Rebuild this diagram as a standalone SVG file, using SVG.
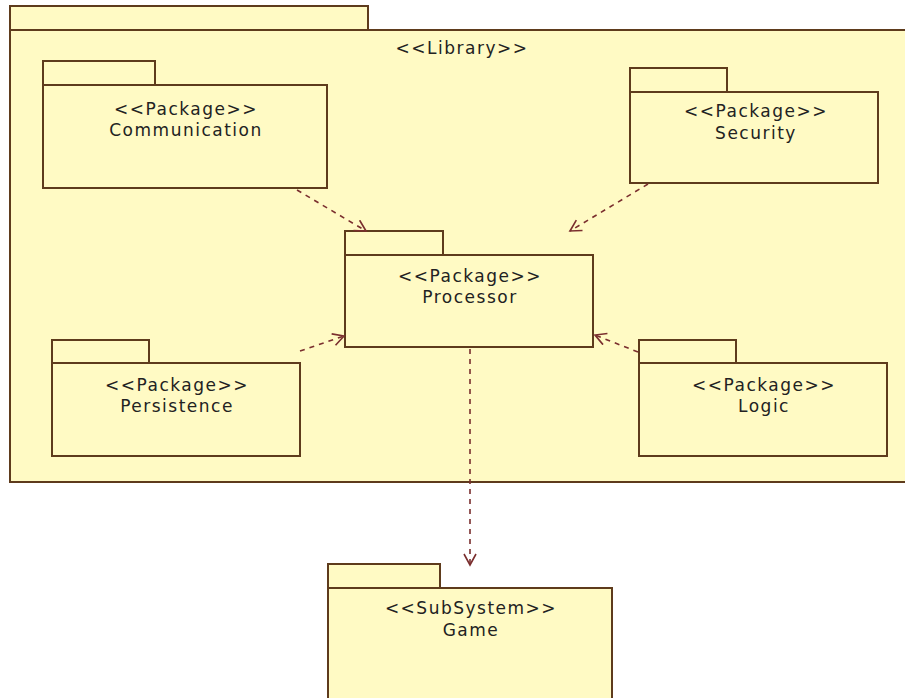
<svg xmlns="http://www.w3.org/2000/svg" width="905" height="698" viewBox="0 0 905 698">
<style>
.pk{fill:#FFFAC4;stroke:#5E3B1C;stroke-width:2}
.t{font-family:"DejaVu Sans",Verdana,sans-serif;font-size:17px;letter-spacing:1.5px;fill:#222222;text-anchor:middle}
.dep{fill:none;stroke:#7A2E2E;stroke-width:1.6;stroke-dasharray:5,5}
.ah{fill:none;stroke:#7A2E2E;stroke-width:1.6}
</style>
<defs>
<marker id="open" markerWidth="14" markerHeight="14" refX="12" refY="7" orient="auto" markerUnits="userSpaceOnUse">
<path d="M1,1 L12,7 L1,13" class="ah"/>
</marker>
</defs>
<rect width="905" height="698" fill="#FFFFFF"/>
<g id="library">
<rect class="pk" x="10" y="6" width="358" height="24"/>
<rect class="pk" x="10" y="30" width="905" height="452"/>
<text class="t" x="462" y="54">&lt;&lt;Library&gt;&gt;</text>
</g>
<g id="communication">
<rect class="pk" x="43" y="61" width="112" height="24"/>
<rect class="pk" x="43" y="85" width="284" height="103"/>
<text class="t" x="186" y="115">&lt;&lt;Package&gt;&gt;</text>
<text class="t" x="186" y="136">Communication</text>
</g>
<g id="security">
<rect class="pk" x="630" y="68" width="97" height="24"/>
<rect class="pk" x="630" y="92" width="248" height="91"/>
<text class="t" x="756" y="117">&lt;&lt;Package&gt;&gt;</text>
<text class="t" x="756" y="139">Security</text>
</g>
<g id="processor">
<rect class="pk" x="345" y="231" width="98" height="24"/>
<rect class="pk" x="345" y="255" width="248" height="92"/>
<text class="t" x="470" y="282">&lt;&lt;Package&gt;&gt;</text>
<text class="t" x="470" y="303">Processor</text>
</g>
<g id="persistence">
<rect class="pk" x="52" y="340" width="97" height="23"/>
<rect class="pk" x="52" y="363" width="248" height="93"/>
<text class="t" x="177" y="391">&lt;&lt;Package&gt;&gt;</text>
<text class="t" x="177" y="412">Persistence</text>
</g>
<g id="logic">
<rect class="pk" x="639" y="340" width="97" height="23"/>
<rect class="pk" x="639" y="363" width="248" height="93"/>
<text class="t" x="764" y="391">&lt;&lt;Package&gt;&gt;</text>
<text class="t" x="764" y="412">Logic</text>
</g>
<g id="game">
<rect class="pk" x="328" y="564" width="112" height="24"/>
<rect class="pk" x="328" y="588" width="284" height="120"/>
<text class="t" x="471" y="614">&lt;&lt;SubSystem&gt;&gt;</text>
<text class="t" x="471" y="636">Game</text>
</g>
<g id="connectors">
<line class="dep" x1="297" y1="190" x2="366" y2="231" marker-end="url(#open)"/>
<line class="dep" x1="648" y1="184" x2="570" y2="231" marker-end="url(#open)"/>
<line class="dep" x1="300" y1="351" x2="344" y2="336" marker-end="url(#open)"/>
<line class="dep" x1="638" y1="352" x2="595" y2="335" marker-end="url(#open)"/>
<line class="dep" x1="470" y1="349" x2="470" y2="565" marker-end="url(#open)"/>
</g>
</svg>
